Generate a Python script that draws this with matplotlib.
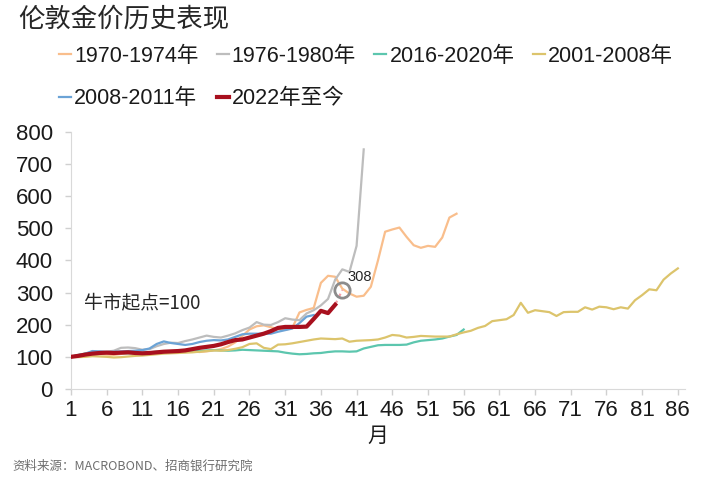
import numpy as np
import matplotlib
matplotlib.use("Agg")
import matplotlib.pyplot as plt
from matplotlib import font_manager as fm

# ---- data (index = month since bull-market start) ----
gold_7074 = [100, 101, 104, 106, 108, 107, 106, 109, 111, 110,
             108, 109, 111, 113, 114, 116, 118, 117, 115, 117,
             120, 124, 132, 145, 165, 185, 195, 198, 192, 186,
             184, 190, 238, 246, 252, 330, 352, 349, 312, 297,
             287, 290, 318, 400, 489, 496, 502, 473, 447, 439,
             445, 442, 471, 533, 545]
gold_7680 = [100, 104, 108, 117, 116, 116, 119, 128, 129, 127,
             122, 124, 133, 140, 144, 143, 149, 154, 160, 166,
             162, 160, 166, 173, 183, 191, 208, 200, 199, 208,
             220, 216, 214, 235, 245, 260, 280, 340, 372, 364,
             445, 745]
gold_1620 = [100, 106, 110, 112, 113, 114, 113, 112, 111, 112,
             113, 114, 116, 115, 114, 115, 116, 117, 118, 120,
             121, 120, 119, 120, 122, 121, 120, 119, 118, 117,
             113, 110, 108, 109, 111, 112, 115, 117, 117, 116,
             117, 126, 131, 136, 137, 137, 137, 138, 145, 150,
             152, 154, 157, 163, 168, 185]
gold_0108 = [100, 99, 100, 102, 101, 100, 98, 99, 101, 103,
             104, 106, 108, 110, 111, 112, 113, 114, 116, 118,
             120, 119, 121, 125, 130, 140, 142, 128, 124, 138,
             139, 142, 146, 150, 154, 157, 156, 155, 157, 147,
             150, 151, 152, 154, 160, 168, 166, 160, 162, 165,
             164, 163, 163, 163, 170, 176, 181, 190, 196, 211,
             214, 217, 230, 268, 237, 245, 242, 239, 227, 239,
             240, 240, 254, 247, 256, 254, 248, 254, 250, 276,
             292, 310, 307, 340, 359, 375]
gold_0811 = [100, 105, 110, 118, 117, 115, 116, 117, 118, 119,
             121, 126, 140, 148, 143, 140, 137, 140, 146, 150,
             152, 151, 154, 162, 170, 172, 172, 172, 172, 178,
             183, 188, 205, 225, 230]
gold_2022 = [100, 103, 107, 110, 112, 113, 112, 113, 114, 112,
             111, 112, 114, 116, 117, 118, 120, 124, 128, 131,
             134, 139, 146, 152, 154, 160, 166, 172, 180, 190,
             193, 193, 193, 194, 218, 243, 236, 262]
latest_month = 39
latest_value = 308

series = [
    ("1970-1974年", gold_7074, "#F9BE8C"),
    ("1976-1980年", gold_7680, "#BDBDBD"),
    ("2016-2020年", gold_1620, "#5CC6AE"),
    ("2001-2008年", gold_0108, "#DCC46C"),
    ("2008-2011年", gold_0811, "#6BA3D6"),
]
xticks = list(range(1, 87, 5))
yticks = list(range(0, 801, 100))

names = {f.name for f in fm.fontManager.ttflist}
latin = "Liberation Sans" if "Liberation Sans" in names else "DejaVu Sans"
fam = [latin, "Noto Sans CJK SC", "DejaVu Sans"]
cjk = ["Noto Sans CJK SC", "DejaVu Sans"]
plt.rcParams["font.family"] = fam

fig = plt.figure(figsize=(7.05, 4.78), dpi=100)
ax = fig.add_axes([71 / 705, 89 / 478, 614 / 705, 257.3 / 478])

handles = []
for label, vals, col in series:
    m = np.arange(1, len(vals) + 1)
    h, = ax.plot(m, vals, color=col, lw=1.6, label=label, solid_joinstyle="round")
    handles.append(h)

m22 = np.arange(1, len(gold_2022) + 1)
ax.plot([m22[-1], latest_month], [gold_2022[-1], latest_value],
        color="#F2A0A8", lw=1.6, ls=(0, (2, 1.5)), zorder=4)
h22, = ax.plot(m22, gold_2022, color="#A8101E", lw=3.0, label="2022年至今", zorder=5)
handles.append(h22)

ax.plot([latest_month], [latest_value], marker="o", ms=11, mfc="none",
        mec="#8C8C8C", mew=2, zorder=6)
ax.annotate(str(latest_value), (latest_month, latest_value), xytext=(4, 4),
            textcoords="offset points", ha="left", va="bottom",
            fontsize=10.5, color="#262626")

ax.text(2.8, 268, "牛市起点=100", fontsize=13.5, family=cjk, color="#262626",
        ha="left", va="center")

ax.set_xlim(1, 87)
ax.set_ylim(0, 800)
ax.set_xticks(xticks)
ax.set_yticks(yticks)
ax.tick_params(axis="both", labelsize=16, colors="#D0D0D0", labelcolor="#1A1A1A",
               length=4, width=1, direction="out")
ax.tick_params(axis="x", pad=4)
ax.tick_params(axis="y", pad=9)
for side in ("top", "right"):
    ax.spines[side].set_visible(False)
for side in ("left", "bottom"):
    ax.spines[side].set_color("#D9D9D9")
ax.set_xlabel("月", fontsize=15, family=cjk, color="#1A1A1A", labelpad=3)

fig.text(18 / 705, 1 - 19 / 478, "伦敦金价历史表现", fontsize=19, family=cjk,
         color="#262626", ha="left", va="center")

order = [0, 4, 1, 5, 2, 3]
leg = fig.legend([handles[i] for i in order], [handles[i].get_label() for i in order],
                 loc="upper left", bbox_to_anchor=(59 / 705, 1 - 46 / 478), ncol=4,
                 frameon=False, fontsize=15.5, handlelength=0.55, handletextpad=0.15,
                 columnspacing=0.85, labelspacing=0.98, borderpad=0, borderaxespad=0)
for t in leg.get_texts():
    t.set_color("#1A1A1A")

fig.text(12 / 705, 1 - 466 / 478, "资料来源：MACROBOND、招商银行研究院", fontsize=9,
         family=cjk, color="#6E6E6E", ha="left", va="center")

fig.savefig("out.png", dpi=100)
